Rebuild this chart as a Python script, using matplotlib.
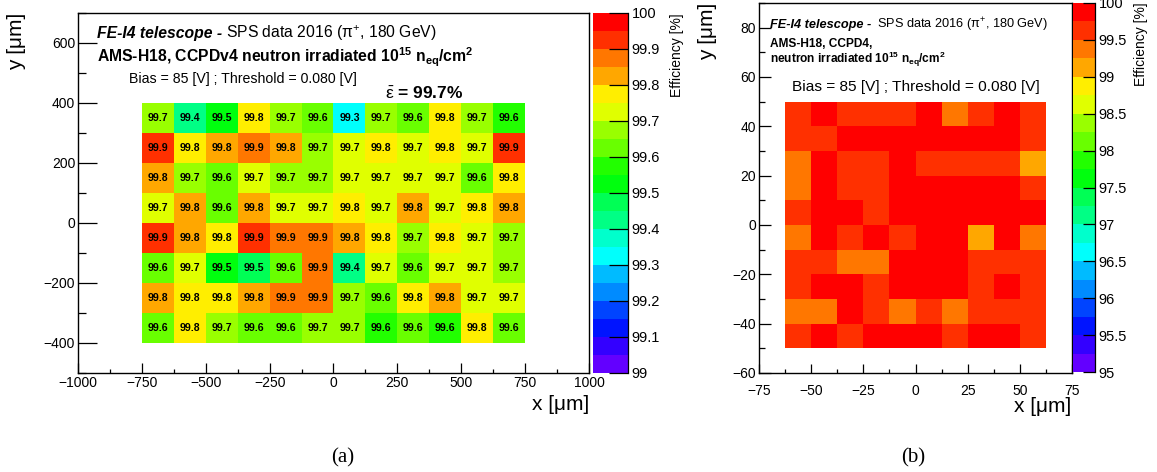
import colorsys
import numpy as np
import matplotlib
matplotlib.use("Agg")
import matplotlib.pyplot as plt
from matplotlib.colors import ListedColormap, BoundaryNorm
from matplotlib.ticker import MultipleLocator, FormatStrFormatter
from matplotlib.lines import Line2D

plt.rcParams['font.family'] = ['Liberation Sans', 'DejaVu Sans']
plt.rcParams['mathtext.fontset'] = 'custom'
plt.rcParams['mathtext.rm'] = 'Liberation Sans'
plt.rcParams['mathtext.it'] = 'Liberation Sans:italic'
plt.rcParams['mathtext.bf'] = 'Liberation Sans:bold'

# ---------------- data: panel (a) ----------------
a_x_edges = [-750, -625, -500, -375, -250, -125, 0, 125, 250, 375, 500, 625, 750]
a_y_edges = [400, 300, 200, 100, 0, -100, -200, -300, -400]   # rows listed top -> bottom
a_eff = [
    [99.68, 99.42, 99.52, 99.77, 99.68, 99.62, 99.32, 99.68, 99.62, 99.77, 99.68, 99.58],
    [99.92, 99.78, 99.82, 99.87, 99.82, 99.68, 99.72, 99.78, 99.72, 99.78, 99.72, 99.92],
    [99.82, 99.68, 99.62, 99.72, 99.68, 99.68, 99.72, 99.72, 99.72, 99.72, 99.62, 99.78],
    [99.72, 99.82, 99.62, 99.82, 99.72, 99.72, 99.78, 99.72, 99.82, 99.72, 99.78, 99.82],
    [99.92, 99.82, 99.78, 99.92, 99.87, 99.87, 99.82, 99.78, 99.68, 99.78, 99.72, 99.68],
    [99.62, 99.72, 99.52, 99.47, 99.62, 99.87, 99.42, 99.72, 99.62, 99.72, 99.72, 99.68],
    [99.82, 99.78, 99.78, 99.82, 99.87, 99.87, 99.68, 99.62, 99.78, 99.82, 99.72, 99.72],
    [99.62, 99.78, 99.68, 99.62, 99.62, 99.68, 99.68, 99.58, 99.62, 99.58, 99.78, 99.62],
]
a_mean = 99.7
a_zrange = (99.0, 100.0)
a_cbar_ticks = [99.0, 99.1, 99.2, 99.3, 99.4, 99.5, 99.6, 99.7, 99.8, 99.9, 100.0]

# ---------------- data: panel (b) ----------------
b_x_edges = [-62.5, -50, -37.5, -25, -12.5, 0, 12.5, 25, 37.5, 50, 62.5]
b_y_edges = [50, 40, 30, 20, 10, 0, -10, -20, -30, -40, -50]   # rows listed top -> bottom
b_eff = [
    [99.62, 99.88, 99.62, 99.62, 99.62, 99.88, 99.38, 99.62, 99.88, 99.62],
    [99.62, 99.62, 99.88, 99.88, 99.88, 99.88, 99.88, 99.88, 99.88, 99.62],
    [99.38, 99.88, 99.62, 99.62, 99.88, 99.62, 99.62, 99.62, 99.62, 99.12],
    [99.38, 99.88, 99.62, 99.62, 99.88, 99.88, 99.88, 99.88, 99.88, 99.62],
    [99.62, 99.88, 99.88, 99.62, 99.88, 99.88, 99.88, 99.88, 99.88, 99.88],
    [99.38, 99.88, 99.62, 99.88, 99.62, 99.88, 99.88, 99.12, 99.88, 99.38],
    [99.62, 99.62, 99.38, 99.38, 99.88, 99.88, 99.88, 99.62, 99.62, 99.62],
    [99.62, 99.88, 99.88, 99.62, 99.88, 99.88, 99.88, 99.62, 99.88, 99.62],
    [99.38, 99.38, 99.88, 99.62, 99.38, 99.62, 99.38, 99.62, 99.62, 99.62],
    [99.62, 99.88, 99.62, 99.88, 99.88, 99.88, 99.62, 99.88, 99.88, 99.62],
]
b_zrange = (95.0, 100.0)
b_cbar_ticks = [95.0, 95.5, 96.0, 96.5, 97.0, 97.5, 98.0, 98.5, 99.0, 99.5, 100.0]

N_CONT = 20


def root_pretty_colors(ncont):
    """ROOT 'pretty palette' (violet -> red, 50 colours) sampled for ncont contours."""
    cols = []
    for j in range(ncont):
        idx = int((j + 0.99) * 50 / ncont)
        hue = 280.0 - (idx + 1) * 5.6
        cols.append(colorsys.hls_to_rgb(max(hue, 0) / 360.0, 0.5, 1.0))
    return cols


cmap = ListedColormap(root_pretty_colors(N_CONT))

W, H = 1157, 472
fig = plt.figure(figsize=(W / 100, H / 100), dpi=100)


def fbox(x0, y0, x1, y1):
    return [x0 / W, 1 - y1 / H, (x1 - x0) / W, (y1 - y0) / H]


ax_a = fig.add_axes(fbox(78, 13, 589, 373))
cax_a = fig.add_axes(fbox(593, 13, 628, 373))
ax_b = fig.add_axes(fbox(759, 3, 1072, 373))
cax_b = fig.add_axes(fbox(1073, 3, 1095, 372))


def draw_map(ax, cax, xe, ye, z, zr, ticks, cb_ticklen, cb_label_x, cb_label_top):
    levels = np.linspace(zr[0], zr[1], N_CONT + 1)
    norm = BoundaryNorm(levels, N_CONT)
    mesh = ax.pcolormesh(xe, ye, np.array(z), cmap=cmap, norm=norm)
    cb = fig.colorbar(mesh, cax=cax, ticks=ticks)
    cb.outline.set_visible(False)
    cax.yaxis.set_major_formatter(FormatStrFormatter('%g'))
    cax.tick_params(axis='y', direction='in', length=cb_ticklen, width=0.9,
                    labelsize=10.5, pad=2.5, color='k')
    cax.minorticks_off()
    fig.add_artist(Line2D([1, 1], [0, 1], transform=cax.transAxes, color='k', lw=0.9))
    fig.text(cb_label_x / W, 1 - cb_label_top / H, 'Efficiency [%]', rotation=90,
             ha='center', va='top', fontsize=10)
    return mesh


draw_map(ax_a, cax_a, a_x_edges, a_y_edges, a_eff, a_zrange, a_cbar_ticks, 13.7, 677, 13)
draw_map(ax_b, cax_b, b_x_edges, b_y_edges, b_eff, b_zrange, b_cbar_ticks, 8.5, 1141, 2)

# cell labels in panel (a)
for r, row in enumerate(a_eff):
    yc = 0.5 * (a_y_edges[r] + a_y_edges[r + 1])
    for c, v in enumerate(row):
        xc = 0.5 * (a_x_edges[c] + a_x_edges[c + 1])
        ax_a.text(xc, yc, f"{v:.1f}", ha='center', va='center', fontsize=7.6,
                  fontweight='bold', color='k')

# axes styling
ax_a.set_xlim(-1000, 1000)
ax_a.set_ylim(-500, 700)
ax_a.xaxis.set_major_locator(MultipleLocator(250))
ax_a.xaxis.set_minor_locator(MultipleLocator(125))
ax_a.yaxis.set_major_locator(MultipleLocator(200))
ax_a.yaxis.set_minor_locator(MultipleLocator(100))
ax_a.tick_params(axis='x', which='major', direction='in', length=7.2, width=0.9, labelsize=10, pad=2.5)
ax_a.tick_params(axis='x', which='minor', direction='in', length=3.1, width=0.9)
ax_a.tick_params(axis='y', which='major', direction='in', length=13.5, width=0.9, labelsize=10, pad=2)
ax_a.tick_params(axis='y', which='minor', direction='in', length=5.8, width=0.9)

ax_b.set_xlim(-75, 75)
ax_b.set_ylim(-60, 90)
ax_b.xaxis.set_major_locator(MultipleLocator(25))
ax_b.xaxis.set_minor_locator(MultipleLocator(12.5))
ax_b.yaxis.set_major_locator(MultipleLocator(20))
ax_b.yaxis.set_minor_locator(MultipleLocator(10))
ax_b.tick_params(axis='x', which='major', direction='in', length=6.5, width=0.9, labelsize=10, pad=8)
ax_b.tick_params(axis='x', which='minor', direction='in', length=2.9, width=0.9)
ax_b.tick_params(axis='y', which='major', direction='in', length=8.6, width=0.9, labelsize=10, pad=2)
ax_b.tick_params(axis='y', which='minor', direction='in', length=4.3, width=0.9)

for ax in (ax_a, ax_b):
    for s in ax.spines.values():
        s.set_linewidth(1.0)

# axis titles
fig.text(589 / W, 1 - 405 / H, 'x [μm]', ha='right', va='center', fontsize=15)
fig.text(17 / W, 1 - 13 / H, 'y [μm]', ha='center', va='top', rotation=90, fontsize=15)
fig.text(1071 / W, 1 - 406 / H, 'x [μm]', ha='right', va='center', fontsize=15)
fig.text(708 / W, 1 - 3 / H, 'y [μm]', ha='center', va='top', rotation=90, fontsize=15)

renderer = fig.canvas.get_renderer()


def two_part(x, y, t1, t2, size, gap):
    a = fig.text(x / W, 1 - y / H, t1, fontsize=size, fontweight='bold', style='italic',
                 ha='left', va='baseline')
    bb = a.get_window_extent(renderer)
    fig.text((bb.x1 + gap) / W, 1 - y / H, t2, fontsize=size, ha='left', va='baseline')


# panel (a) header
two_part(97, 38, 'FE-I4 telescope -', r'SPS data 2016 ($\mathrm{\pi}^{+}$, 180 GeV)', 11.3, 4)
fig.text(97 / W, 1 - 62 / H,
         r'AMS-H18, CCPDv4 neutron irradiated 10$^{\mathbf{15}}$ n$_{\mathbf{eq}}$/cm$^{\mathbf{2}}$',
         fontsize=11.3, fontweight='bold', ha='left', va='baseline')
fig.text(129 / W, 1 - 83 / H, 'Bias = 85 [V] ; Threshold = 0.080 [V]', fontsize=10.2,
         ha='left', va='baseline')
fig.text(463 / W, 1 - 99 / H, r'$\bar{\mathrm{\varepsilon}}$' + f' = {a_mean:.1f}%',
         fontsize=12.5, fontweight='bold', ha='right', va='baseline')

# panel (b) header
two_part(770, 28, 'FE-I4 telescope -', r'SPS data 2016 ($\mathrm{\pi}^{+}$, 180 GeV)', 9.2, 6)
fig.text(770 / W, 1 - 47 / H, 'AMS-H18, CCPD4,', fontsize=8.6, fontweight='bold',
         ha='left', va='baseline')
fig.text(770 / W, 1 - 63 / H,
         r'neutron irradiated 10$^{\mathbf{15}}$ n$_{\mathbf{eq}}$/cm$^{\mathbf{2}}$',
         fontsize=8.6, fontweight='bold', ha='left', va='baseline')
fig.text(792 / W, 1 - 91 / H, 'Bias = 85 [V] ; Threshold = 0.080 [V]', fontsize=11.1,
         ha='left', va='baseline')

# captions
fig.text(343 / W, 1 - 458 / H, '(a)', fontsize=15, family='Liberation Serif',
         ha='center', va='center')
fig.text(913 / W, 1 - 458 / H, '(b)', fontsize=15, family='Liberation Serif',
         ha='center', va='center')

fig.savefig('out.png', dpi=100)
